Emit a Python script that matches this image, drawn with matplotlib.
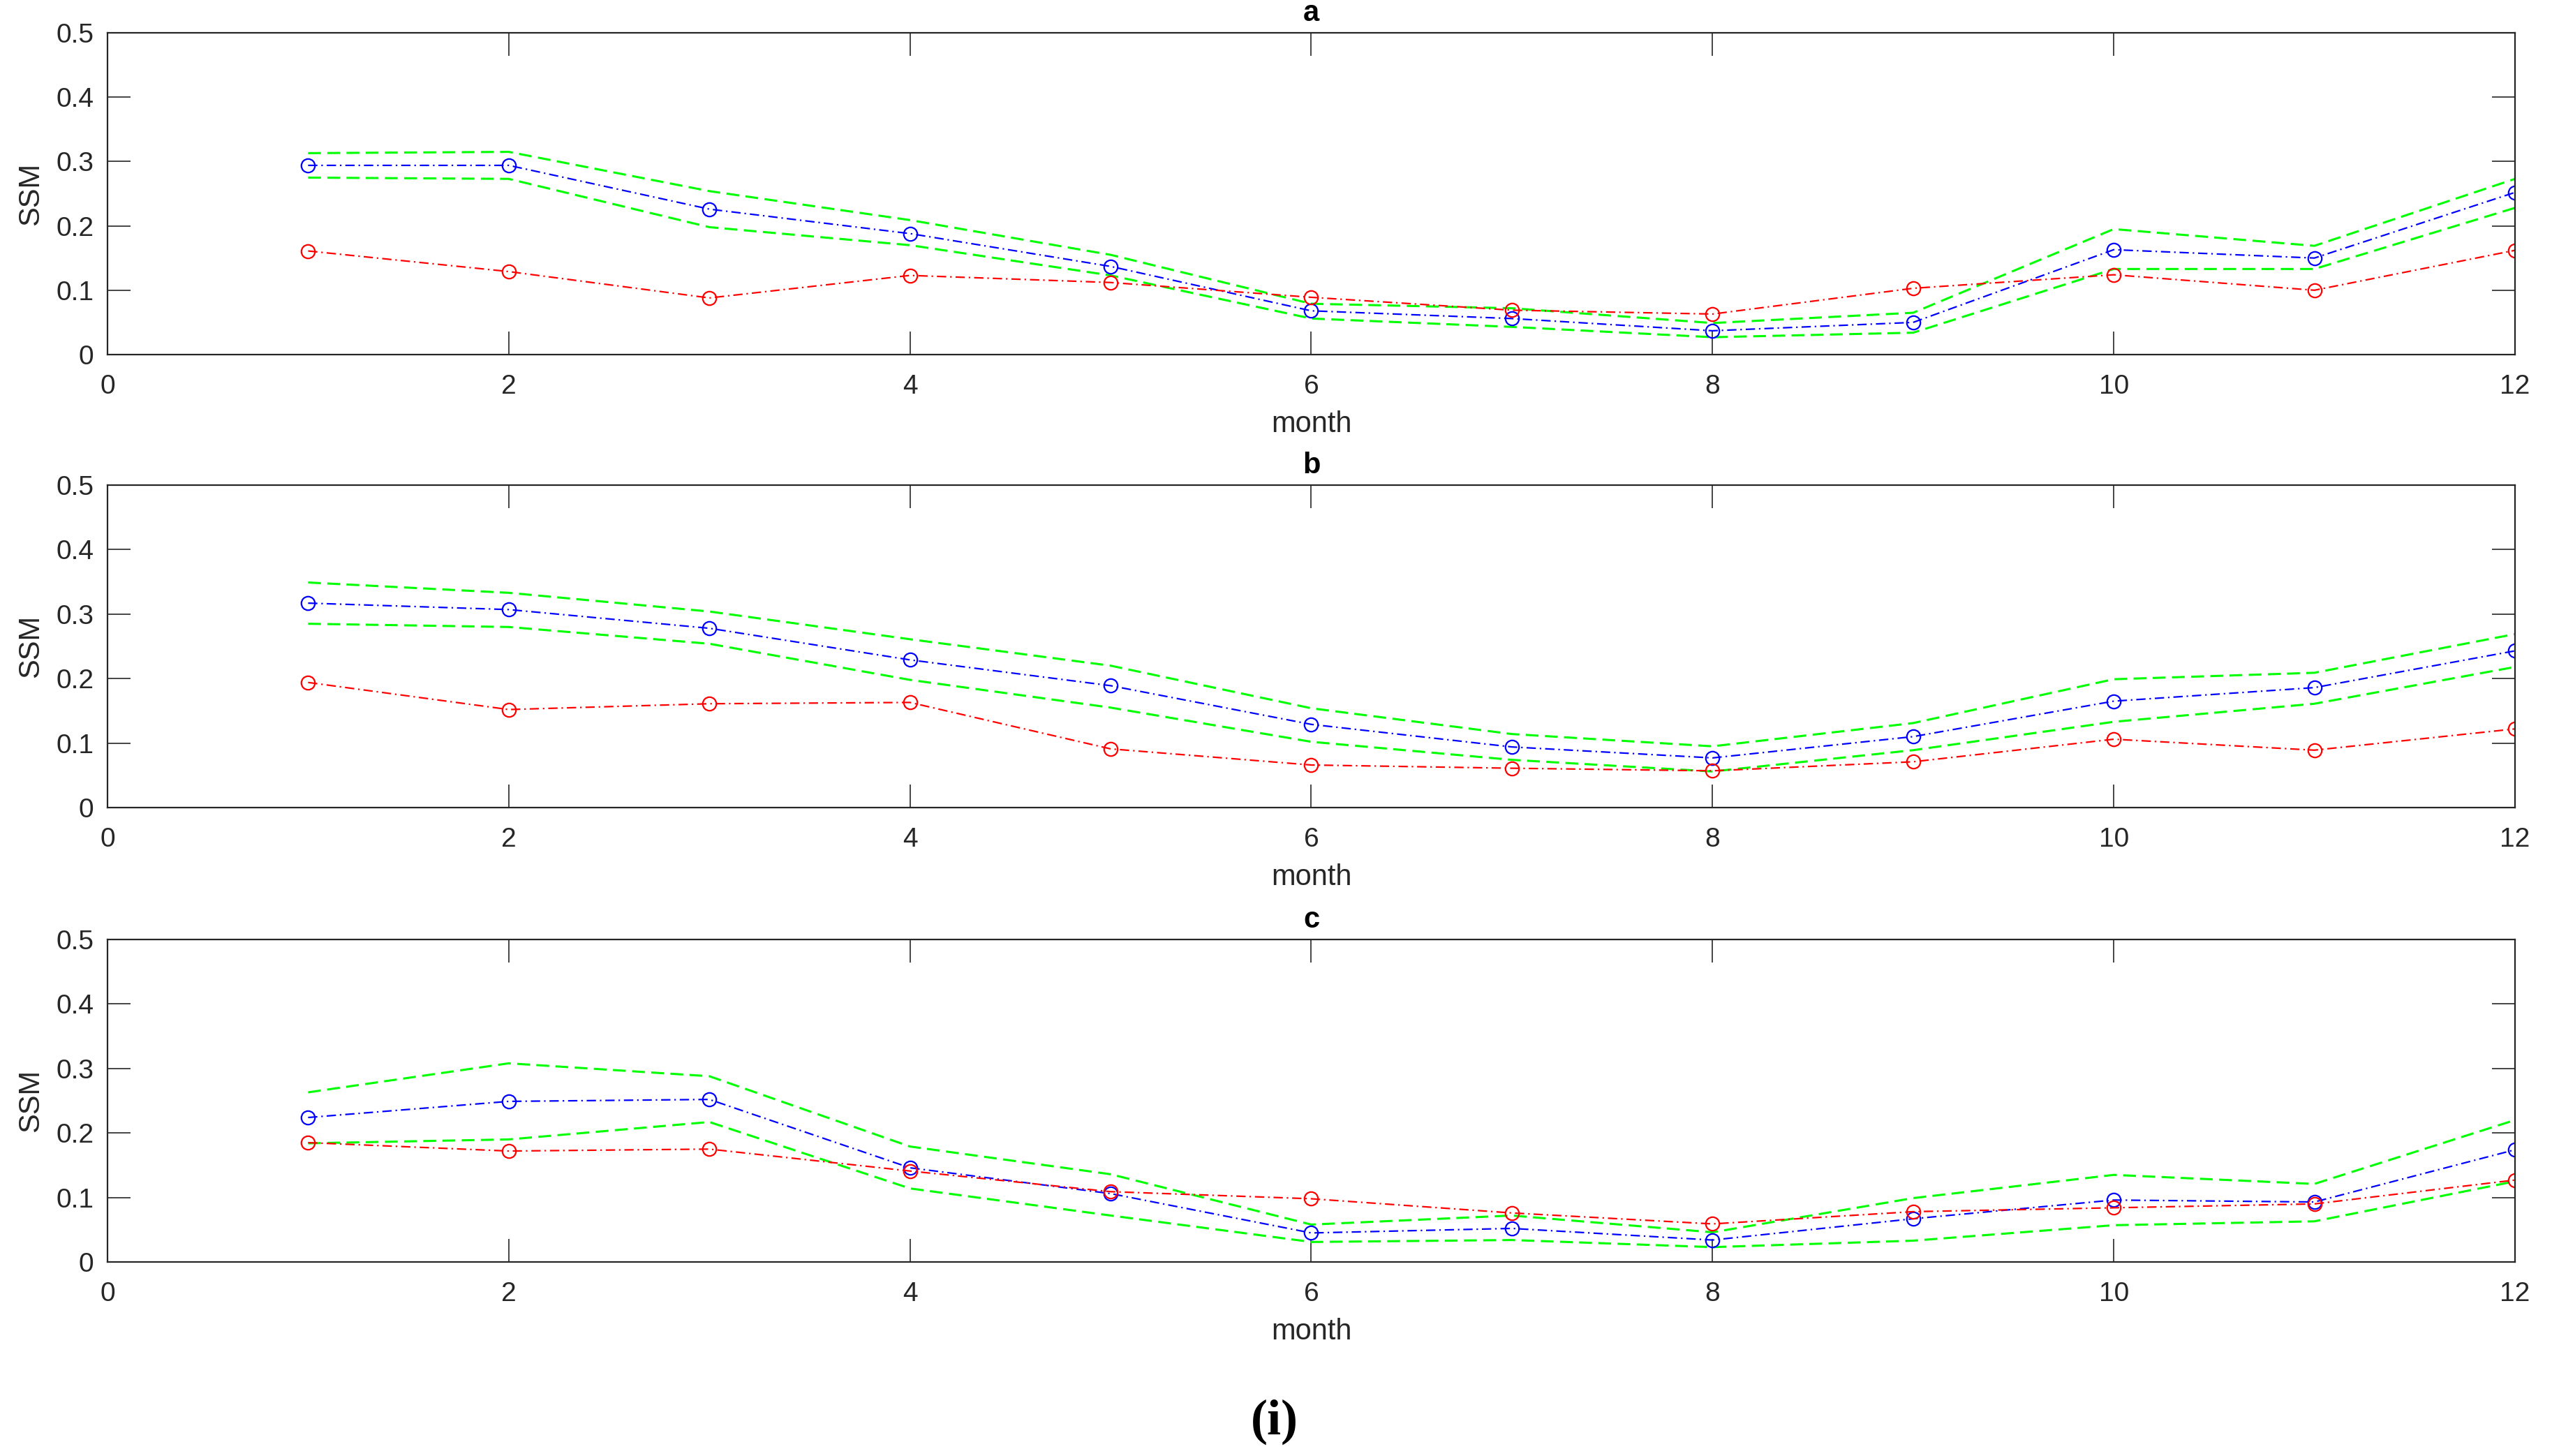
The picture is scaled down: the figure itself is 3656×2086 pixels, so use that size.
import numpy as np
import matplotlib
matplotlib.use("Agg")
import matplotlib.pyplot as plt

months = [1, 2, 3, 4, 5, 6, 7, 8, 9, 10, 11, 12]
panel_titles = ["a", "b", "c"]

# Panel a
a_blue = [0.294, 0.294, 0.226, 0.188, 0.137, 0.068, 0.056, 0.037, 0.050, 0.163, 0.150, 0.252]
a_red = [0.161, 0.129, 0.088, 0.123, 0.112, 0.089, 0.069, 0.063, 0.103, 0.124, 0.100, 0.162]
a_upper = [0.313, 0.315, 0.254, 0.209, 0.155, 0.079, 0.072, 0.049, 0.065, 0.195, 0.169, 0.273]
a_lower = [0.275, 0.273, 0.198, 0.170, 0.123, 0.056, 0.043, 0.027, 0.034, 0.133, 0.133, 0.228]

# Panel b
b_blue = [0.317, 0.307, 0.278, 0.229, 0.189, 0.129, 0.094, 0.077, 0.110, 0.165, 0.186, 0.243]
b_red = [0.194, 0.152, 0.161, 0.163, 0.091, 0.066, 0.061, 0.057, 0.071, 0.106, 0.089, 0.122]
b_upper = [0.349, 0.333, 0.304, 0.261, 0.220, 0.154, 0.114, 0.095, 0.131, 0.199, 0.209, 0.269]
b_lower = [0.285, 0.280, 0.254, 0.198, 0.155, 0.102, 0.074, 0.056, 0.089, 0.133, 0.161, 0.218]

# Panel c
c_blue = [0.224, 0.249, 0.252, 0.146, 0.106, 0.045, 0.052, 0.034, 0.067, 0.096, 0.093, 0.174]
c_red = [0.185, 0.172, 0.175, 0.141, 0.109, 0.098, 0.076, 0.059, 0.078, 0.084, 0.090, 0.127]
c_upper = [0.263, 0.308, 0.288, 0.179, 0.136, 0.058, 0.072, 0.046, 0.099, 0.135, 0.121, 0.220]
c_lower = [0.184, 0.190, 0.217, 0.114, 0.072, 0.031, 0.034, 0.023, 0.033, 0.057, 0.063, 0.125]

panels = [
    (a_blue, a_red, a_upper, a_lower),
    (b_blue, b_red, b_upper, b_lower),
    (c_blue, c_red, c_upper, c_lower),
]

x_ticks = [0, 2, 4, 6, 8, 10, 12]
y_ticks = [0, 0.1, 0.2, 0.3, 0.4, 0.5]
y_ticklabels = ["0", "0.1", "0.2", "0.3", "0.4", "0.5"]

plt.rcParams['font.family'] = ['Liberation Sans', 'DejaVu Sans']
axcol = '#262626'

fig = plt.figure(figsize=(18.28, 10.43), dpi=200)
W, H = 3656, 2086
left = 154 / W
width = (3603 - 154) / W
tops = [47, 695, 1346]
bottoms = [508, 1157, 1808]

for i, (blue, red, up, lo) in enumerate(panels):
    ax = fig.add_axes([left, 1 - bottoms[i] / H, width, (bottoms[i] - tops[i]) / H])
    ax.plot(months, up, linestyle=(0, (6, 3)), color='#00ff00', linewidth=1.1)
    ax.plot(months, lo, linestyle=(0, (6, 3)), color='#00ff00', linewidth=1.1)
    ax.plot(months, blue, linestyle=(0, (6, 2.5, 1, 2.5)), color='#0000ff', linewidth=0.8,
            marker='o', markersize=7, markerfacecolor='none', markeredgewidth=0.8)
    ax.plot(months, red, linestyle=(0, (6, 2.5, 1, 2.5)), color='#ff0000', linewidth=0.8,
            marker='o', markersize=7, markerfacecolor='none', markeredgewidth=0.8)
    ax.set_xlim(0, 12)
    ax.set_ylim(0, 0.5)
    ax.set_xticks(x_ticks)
    ax.set_xticklabels([str(t) for t in x_ticks])
    ax.set_yticks(y_ticks)
    ax.set_yticklabels(y_ticklabels)
    ax.tick_params(direction='in', length=12, width=0.6, colors=axcol,
                   labelsize=14, top=True, right=True)
    ax.tick_params(axis='x', pad=10)
    ax.tick_params(axis='y', pad=7)
    for s in ax.spines.values():
        s.set_color(axcol)
        s.set_linewidth(0.8)
    ax.set_xlabel('month', fontsize=15, color=axcol, labelpad=6)
    ax.set_ylabel('SSM', fontsize=15, color=axcol, labelpad=6)
    ax.set_title(panel_titles[i], fontsize=15, fontweight='bold', pad=6)

fig.text(1826 / W, 1 - 2037 / H, '(i)', ha='center', va='center',
         fontsize=26, fontweight='bold', family=['Liberation Serif', 'DejaVu Serif'])

fig.savefig('out.png', dpi=200)
